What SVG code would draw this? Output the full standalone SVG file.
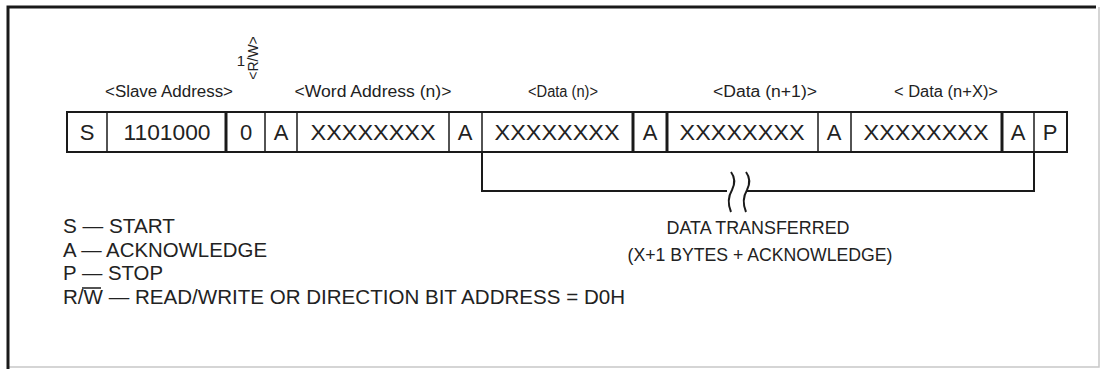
<svg xmlns="http://www.w3.org/2000/svg" width="1102" height="369" viewBox="0 0 1102 369">
<style>
.frame{fill:none;stroke:#1a1a1a;stroke-width:3}
.faint{fill:none;stroke:#c8c8c8;stroke-width:1.5}
.box{fill:#fff;stroke:#1a1a1a;stroke-width:2}
.div{stroke:#1a1a1a;stroke-width:1.5}
.thick{stroke:#1a1a1a;stroke-width:3}
.ln{fill:none;stroke:#1a1a1a;stroke-width:2}
.lbl{font-family:"Liberation Sans",Arial,sans-serif;font-size:16px;fill:#222;text-anchor:middle}
.cell{font-family:"Liberation Sans",Arial,sans-serif;font-size:22px;fill:#222;text-anchor:middle}
.leg{font-family:"Liberation Sans",Arial,sans-serif;font-size:20px;fill:#222}
.note{font-family:"Liberation Sans",Arial,sans-serif;font-size:18px;fill:#222;text-anchor:middle}
</style>
<rect width="1102" height="369" fill="#fff"/>
<path class="faint" d="M1099,7 V367 H8"/>
<path class="frame" d="M8,369 V7 H1096"/>

<g id="rw-bit">
<text class="lbl" x="241" y="66" style="font-size:15px">1</text>
<text class="lbl" transform="translate(258,58) rotate(-90)" style="font-size:14px">&lt;R/W&gt;</text>
</g>

<g id="labels">
<text class="lbl" x="169" y="97" textLength="128" lengthAdjust="spacingAndGlyphs">&lt;Slave Address&gt;</text>
<text class="lbl" x="373" y="97" textLength="157" lengthAdjust="spacingAndGlyphs">&lt;Word Address (n)&gt;</text>
<text class="lbl" x="563" y="97" textLength="70" lengthAdjust="spacingAndGlyphs">&lt;Data (n)&gt;</text>
<text class="lbl" x="765" y="97" textLength="104" lengthAdjust="spacingAndGlyphs">&lt;Data (n+1)&gt;</text>
<text class="lbl" x="946" y="97" textLength="104" lengthAdjust="spacingAndGlyphs">&lt; Data (n+X)&gt;</text>
</g>

<g id="frame-row">
<rect class="box" x="67" y="112" width="1000" height="40"/>
<line class="div" x1="107" y1="112" x2="107" y2="152"/>
<line class="thick" x1="226" y1="112" x2="226" y2="152"/>
<line class="div" x1="265" y1="112" x2="265" y2="152"/>
<line class="div" x1="297" y1="112" x2="297" y2="152"/>
<line class="div" x1="449" y1="112" x2="449" y2="152"/>
<line class="div" x1="482" y1="112" x2="482" y2="152"/>
<line class="thick" x1="633" y1="112" x2="633" y2="152"/>
<line class="thick" x1="667" y1="112" x2="667" y2="152"/>
<line class="div" x1="818" y1="112" x2="818" y2="152"/>
<line class="div" x1="851" y1="112" x2="851" y2="152"/>
<line class="thick" x1="1002" y1="112" x2="1002" y2="152"/>
<line class="div" x1="1034" y1="112" x2="1034" y2="152"/>
<text class="cell" x="87" y="140">S</text>
<text class="cell" x="167" y="140" textLength="87" lengthAdjust="spacingAndGlyphs">1101000</text>
<text class="cell" x="246" y="140">0</text>
<text class="cell" x="281" y="140">A</text>
<text class="cell" x="373" y="140" textLength="125" lengthAdjust="spacingAndGlyphs">XXXXXXXX</text>
<text class="cell" x="465" y="140">A</text>
<text class="cell" x="557" y="140" textLength="125" lengthAdjust="spacingAndGlyphs">XXXXXXXX</text>
<text class="cell" x="650" y="140">A</text>
<text class="cell" x="742" y="140" textLength="125" lengthAdjust="spacingAndGlyphs">XXXXXXXX</text>
<text class="cell" x="834" y="140">A</text>
<text class="cell" x="926" y="140" textLength="125" lengthAdjust="spacingAndGlyphs">XXXXXXXX</text>
<text class="cell" x="1018" y="140">A</text>
<text class="cell" x="1050" y="140">P</text>
</g>

<g id="connectors">
<path class="ln" d="M482,152 V191 H727"/>
<path class="ln" d="M747,191 H1034 V152"/>
<path class="ln" stroke-width="2.5" d="M731,172 q6,8 1,18 q-6,10 -1,22"/>
<path class="ln" stroke-width="2.5" d="M746,172 q6,8 1,18 q-6,10 -1,22"/>
</g>

<g id="note">
<text class="note" x="758" y="234" textLength="183" lengthAdjust="spacingAndGlyphs">DATA TRANSFERRED</text>
<text class="note" x="760" y="261" textLength="265" lengthAdjust="spacingAndGlyphs">(X+1 BYTES + ACKNOWLEDGE)</text>
</g>

<g id="legend">
<text class="leg" x="63" y="233" textLength="112" lengthAdjust="spacingAndGlyphs">S — START</text>
<text class="leg" x="63" y="257" textLength="204" lengthAdjust="spacingAndGlyphs">A — ACKNOWLEDGE</text>
<text class="leg" x="63" y="280" textLength="100" lengthAdjust="spacingAndGlyphs">P — STOP</text>
<text class="leg" x="63" y="304" textLength="562" lengthAdjust="spacingAndGlyphs">R/W — READ/WRITE OR DIRECTION BIT ADDRESS = D0H</text>
<line class="div" x1="82" y1="288" x2="101" y2="288"/>
</g>
</svg>
